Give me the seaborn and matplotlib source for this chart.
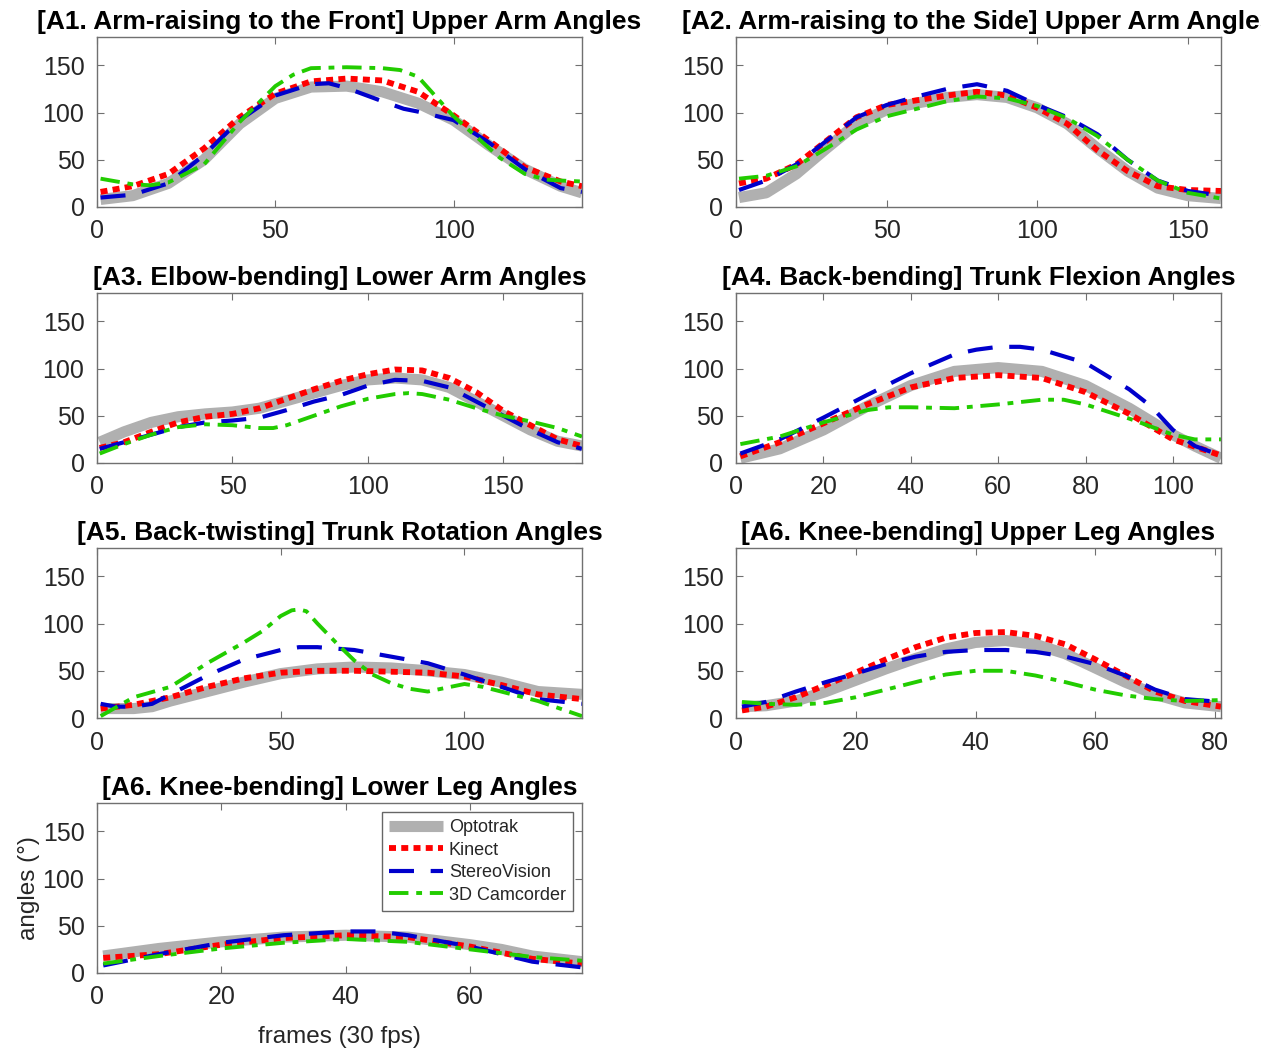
import matplotlib
matplotlib.use("Agg")
import matplotlib.pyplot as plt
import seaborn as sns
import pandas as pd

# ---- data ----
SYSTEMS = ["Optotrak", "Kinect", "StereoVision", "3D Camcorder"]

titles = [
    "[A1. Arm-raising to the Front] Upper Arm Angles",
    "[A2. Arm-raising to the Side] Upper Arm Angles",
    "[A3. Elbow-bending] Lower Arm Angles",
    "[A4. Back-bending] Trunk Flexion Angles",
    "[A5. Back-twisting] Trunk Rotation Angles",
    "[A6. Knee-bending] Upper Leg Angles",
    "[A6. Knee-bending] Lower Leg Angles",
]
x_limits = [136, 161, 179, 111, 132, 81, 78]
x_ticks = [
    [0, 50, 100],
    [0, 50, 100, 150],
    [0, 50, 100, 150],
    [0, 20, 40, 60, 80, 100],
    [0, 50, 100],
    [0, 20, 40, 60, 80],
    [0, 20, 40, 60],
]

# A1
a1_opto_x = [1, 10, 20, 30, 40, 50, 60, 70, 80, 90, 100, 110, 120, 130, 136]
a1_opto_y = [8, 12, 25, 50, 88, 115, 127, 128, 122, 110, 92, 65, 40, 22, 15]
a1_kin_x = [1, 10, 20, 30, 40, 50, 60, 70, 80, 90, 100, 110, 120, 130, 136]
a1_kin_y = [16, 22, 35, 62, 95, 120, 133, 136, 134, 122, 97, 70, 42, 27, 22]
a1_ste_x = [1, 10, 20, 30, 40, 50, 60, 65, 70, 80, 86, 90, 100, 110, 120, 130, 136]
a1_ste_y = [10, 13, 25, 55, 92, 118, 130, 131, 126, 112, 104, 101, 92, 68, 40, 20, 16]
a1_cam_x = [1, 10, 15, 20, 30, 40, 50, 55, 60, 70, 80, 85, 90, 100, 113, 120, 126, 130, 136]
a1_cam_y = [30, 24, 23, 26, 45, 90, 128, 140, 147, 148, 147, 145, 138, 96, 52, 35, 29, 28, 27]

# A2
a2_opto_x = [1, 10, 20, 30, 40, 50, 60, 70, 80, 90, 100, 110, 120, 130, 140, 150, 161]
a2_opto_y = [10, 15, 35, 62, 88, 103, 110, 116, 119, 116, 105, 88, 62, 38, 20, 12, 9]
a2_kin_x = [1, 10, 20, 30, 40, 50, 60, 70, 80, 90, 100, 110, 120, 130, 140, 150, 161]
a2_kin_y = [25, 30, 45, 70, 95, 108, 113, 118, 122, 118, 105, 88, 60, 38, 22, 18, 17]
a2_ste_x = [1, 10, 20, 30, 40, 50, 60, 70, 80, 90, 100, 110, 120, 130, 140, 150, 161]
a2_ste_y = [18, 28, 45, 70, 95, 108, 117, 125, 130, 123, 108, 95, 77, 50, 28, 17, 12]
a2_cam_x = [1, 10, 20, 30, 40, 50, 60, 70, 80, 90, 100, 110, 120, 130, 140, 150, 161]
a2_cam_y = [30, 33, 43, 62, 82, 96, 104, 112, 117, 115, 107, 94, 75, 50, 28, 15, 9]

# A3
a3_opto_x = [1, 10, 20, 30, 40, 50, 60, 70, 80, 90, 100, 110, 120, 130, 140, 150, 160, 170, 179]
a3_opto_y = [22, 33, 43, 49, 52, 54, 58, 66, 74, 82, 88, 90, 88, 80, 65, 50, 35, 23, 18]
a3_kin_x = [1, 10, 20, 30, 40, 50, 60, 70, 80, 90, 100, 110, 120, 130, 140, 150, 160, 170, 179]
a3_kin_y = [16, 22, 33, 43, 49, 52, 58, 68, 78, 87, 94, 99, 98, 90, 75, 55, 40, 25, 18]
a3_ste_x = [1, 10, 20, 30, 40, 50, 60, 70, 80, 90, 100, 110, 120, 130, 140, 150, 160, 170, 179]
a3_ste_y = [15, 22, 30, 38, 43, 45, 48, 56, 65, 72, 82, 88, 87, 80, 65, 50, 35, 22, 15]
a3_cam_x = [1, 10, 20, 30, 40, 50, 60, 65, 70, 80, 90, 100, 110, 115, 120, 130, 140, 150, 160, 170, 179]
a3_cam_y = [10, 20, 30, 38, 41, 40, 37, 37, 40, 50, 60, 68, 73, 74, 73, 67, 58, 50, 44, 37, 28]

# A4
a4_opto_x = [1, 10, 20, 30, 40, 50, 60, 70, 80, 90, 100, 105, 111]
a4_opto_y = [5, 15, 35, 60, 82, 97, 101, 97, 82, 58, 30, 18, 5]
a4_kin_x = [1, 10, 20, 30, 40, 50, 60, 70, 80, 90, 100, 111]
a4_kin_y = [7, 22, 42, 62, 80, 90, 93, 90, 75, 52, 25, 8]
a4_ste_x = [1, 10, 20, 30, 40, 50, 55, 60, 65, 70, 80, 90, 95, 100, 105, 111]
a4_ste_y = [10, 25, 48, 72, 95, 115, 120, 123, 123, 120, 106, 78, 60, 35, 18, 8]
a4_cam_x = [1, 10, 20, 30, 35, 40, 50, 60, 70, 75, 80, 90, 100, 105, 111]
a4_cam_y = [20, 28, 43, 56, 59, 59, 58, 62, 67, 67, 62, 47, 30, 25, 25]

# A5
a5_opto_x = [1, 10, 15, 20, 30, 40, 50, 60, 70, 80, 90, 100, 110, 120, 132]
a5_opto_y = [10, 10, 12, 18, 28, 38, 47, 52, 54, 53, 50, 46, 38, 28, 25]
a5_kin_x = [1, 10, 20, 30, 40, 50, 60, 70, 80, 90, 100, 110, 120, 132]
a5_kin_y = [10, 14, 22, 33, 42, 48, 50, 50, 49, 48, 44, 35, 25, 20]
a5_ste_x = [1, 5, 10, 15, 20, 30, 40, 50, 55, 60, 70, 80, 90, 100, 110, 120, 132]
a5_ste_y = [15, 12, 12, 15, 25, 45, 62, 72, 75, 75, 72, 65, 58, 46, 33, 20, 15]
a5_cam_x = [1, 10, 20, 30, 40, 45, 50, 53, 55, 57, 60, 65, 70, 75, 80, 85, 90, 95, 100, 105, 110, 120, 126, 132]
a5_cam_y = [2, 22, 33, 58, 80, 92, 108, 114, 115, 113, 100, 80, 61, 46, 37, 31, 28, 32, 36, 33, 28, 18, 10, 2]

# A6 upper leg
a6_opto_x = [1, 5, 10, 15, 20, 25, 30, 35, 40, 45, 50, 55, 60, 65, 70, 75, 81]
a6_opto_y = [12, 13, 18, 28, 40, 52, 63, 73, 80, 82, 78, 68, 53, 38, 25, 16, 12]
a6_kin_x = [1, 5, 10, 15, 20, 25, 30, 35, 40, 45, 50, 55, 60, 65, 70, 75, 81]
a6_kin_y = [8, 12, 22, 35, 48, 62, 75, 85, 90, 91, 87, 78, 62, 45, 28, 18, 12]
a6_ste_x = [1, 5, 10, 15, 20, 25, 30, 35, 40, 45, 50, 55, 60, 65, 70, 75, 81]
a6_ste_y = [12, 17, 28, 38, 47, 57, 65, 70, 72, 72, 70, 65, 57, 45, 30, 20, 17]
a6_cam_x = [1, 5, 10, 15, 20, 25, 30, 35, 40, 45, 50, 55, 60, 65, 70, 75, 81]
a6_cam_y = [17, 15, 14, 16, 22, 30, 38, 46, 50, 50, 45, 38, 30, 24, 20, 18, 19]

# A7 lower leg
a7_opto_x = [1, 10, 20, 30, 40, 50, 60, 65, 70, 78]
a7_opto_y = [18, 26, 33, 38, 40, 38, 30, 25, 18, 12]
a7_kin_x = [1, 10, 20, 30, 40, 50, 60, 70, 78]
a7_kin_y = [16, 20, 30, 37, 40, 38, 28, 15, 10]
a7_ste_x = [1, 10, 20, 30, 40, 45, 50, 60, 70, 78]
a7_ste_y = [8, 20, 32, 40, 44, 44, 40, 28, 12, 6]
a7_cam_x = [1, 10, 20, 30, 40, 50, 60, 70, 78]
a7_cam_y = [10, 18, 26, 32, 36, 33, 25, 17, 13]

panels = [
    [(a1_opto_x, a1_opto_y), (a1_kin_x, a1_kin_y), (a1_ste_x, a1_ste_y), (a1_cam_x, a1_cam_y)],
    [(a2_opto_x, a2_opto_y), (a2_kin_x, a2_kin_y), (a2_ste_x, a2_ste_y), (a2_cam_x, a2_cam_y)],
    [(a3_opto_x, a3_opto_y), (a3_kin_x, a3_kin_y), (a3_ste_x, a3_ste_y), (a3_cam_x, a3_cam_y)],
    [(a4_opto_x, a4_opto_y), (a4_kin_x, a4_kin_y), (a4_ste_x, a4_ste_y), (a4_cam_x, a4_cam_y)],
    [(a5_opto_x, a5_opto_y), (a5_kin_x, a5_kin_y), (a5_ste_x, a5_ste_y), (a5_cam_x, a5_cam_y)],
    [(a6_opto_x, a6_opto_y), (a6_kin_x, a6_kin_y), (a6_ste_x, a6_ste_y), (a6_cam_x, a6_cam_y)],
    [(a7_opto_x, a7_opto_y), (a7_kin_x, a7_kin_y), (a7_ste_x, a7_ste_y), (a7_cam_x, a7_cam_y)],
]

# ---- styles ----
styles = {
    "Optotrak": dict(color="#b0b0b0", linewidth=8.0, dashes=None),
    "Kinect": dict(color="#ff0000", linewidth=4.2, dashes=(1.2, 0.9)),
    "StereoVision": dict(color="#0000cc", linewidth=3.0, dashes=(6, 4)),
    "3D Camcorder": dict(color="#22cc00", linewidth=2.8, dashes=(5, 2, 1.5, 2)),
}

sns.set_theme(style="white")
plt.rcParams["font.family"] = ["Liberation Sans", "DejaVu Sans"]

fig = plt.figure(figsize=(12.61, 10.53), dpi=100)

W, H = 1261, 1053
col_left = [97, 736]
row_top = [37, 293, 548, 803]
ax_w, ax_h = 485, 170

for i, data in enumerate(panels):
    r, c = divmod(i, 2)
    left = col_left[c] / W
    bottom = 1 - (row_top[r] + ax_h) / H
    ax = fig.add_axes([left, bottom, ax_w / W, ax_h / H])

    for name, (xs, ys) in zip(SYSTEMS, data):
        st = styles[name]
        df = pd.DataFrame({"frame": xs, "angle": ys})
        sns.lineplot(data=df, x="frame", y="angle", ax=ax,
                     color=st["color"], linewidth=st["linewidth"], label=name)
        ln = ax.lines[-1]
        if st["dashes"] is not None:
            ln.set_dashes(st["dashes"])
            ln.set_dash_capstyle("butt")
        else:
            ln.set_solid_capstyle("butt")

    ax.set_xlim(0, x_limits[i])
    ax.set_ylim(0, 180)
    ax.set_xticks(x_ticks[i])
    ax.set_yticks([0, 50, 100, 150])
    ax.tick_params(direction="in", length=5, width=0.8, colors="#707070",
                   labelcolor="#262626", labelsize=18, top=True, right=True,
                   bottom=True, left=True, pad=9)
    for sp in ax.spines.values():
        sp.set_color("#707070")
        sp.set_linewidth(1.0)
    ax.set_title(titles[i], fontsize=19, fontweight="bold", pad=6, color="black")
    ax.set_xlabel("")
    ax.set_ylabel("")
    if ax.get_legend() is not None:
        ax.get_legend().remove()

    if i == 6:
        ax.set_xlabel("frames (30 fps)", fontsize=17.5, color="#262626", labelpad=12)
        ax.set_ylabel("angles (°)", fontsize=17.5, color="#262626", labelpad=2)
        leg = ax.legend(loc="upper right", fontsize=13, handlelength=3.0,
                        handletextpad=0.3, labelspacing=0.3, borderpad=0.4,
                        borderaxespad=0.5, frameon=True, fancybox=False)
        leg.get_frame().set_edgecolor("#404040")
        leg.get_frame().set_linewidth(1.0)
        for t in leg.get_texts():
            t.set_color("#262626")

fig.savefig("out.png", dpi=100)
